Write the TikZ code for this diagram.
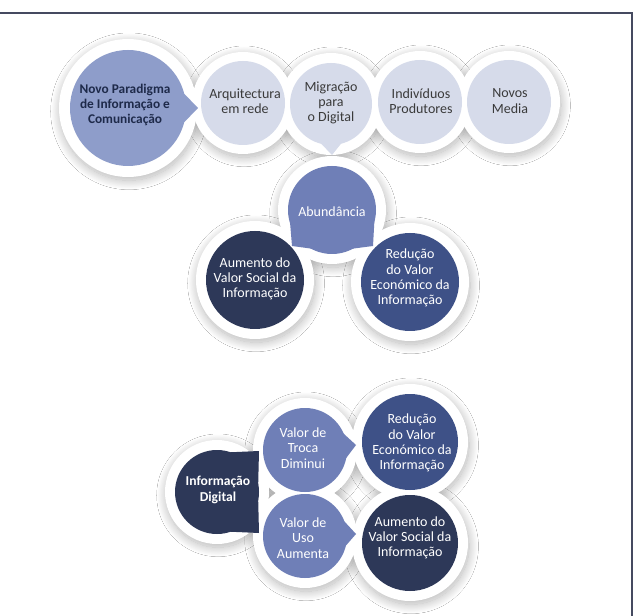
\documentclass[tikz,border=0pt]{standalone}
\usepackage{fontspec}
\setmainfont{Carlito}
\usetikzlibrary{shadows.blur}
\definecolor{lightf}{HTML}{D6DBEA}
\definecolor{novof}{HTML}{8E9DCA}
\definecolor{midf}{HTML}{6F7FB7}
\definecolor{bluef}{HTML}{3E5187}
\definecolor{darkf}{HTML}{2D3858}
\definecolor{framec}{HTML}{454A60}
\definecolor{txtgray}{HTML}{3A3A3A}
\definecolor{txtnavy}{HTML}{1E2A4A}
\tikzset{
  halo/.style={blur shadow={shadow xshift=0.8pt, shadow yshift=-2.5pt, shadow blur radius=7pt, shadow blur steps=32, shadow opacity=30}},
  lbl/.style={align=center, font=\fontsize{10.5}{11.4}\selectfont, inner sep=0pt},
  lbldark/.style={lbl, text=txtgray},
  lbllight/.style={lbl, text=white},
}
\begin{document}
\begin{tikzpicture}[x=0.75pt,y=-0.75pt]
\useasboundingbox (0,0) rectangle (635,616);
\fill[white] (0,0) rectangle (635,616);
% centres
\coordinate (cN) at (128,108);
\coordinate (cA) at (243,103);
\coordinate (cM) at (331,104);
\coordinate (cI) at (420,102);
\coordinate (cNM) at (509,102);
\coordinate (cAb) at (332,210);
\coordinate (cAu) at (255,280);
\coordinate (cR) at (410,282);
\coordinate (cID) at (217,492);
\coordinate (cVT) at (305,450);
\coordinate (cVU) at (305,536);
\coordinate (cR2) at (410,442);
\coordinate (cAu2) at (410,543);
% shadows
\path[halo] (cN) circle (69);
\path[halo] (cA) circle (51);
\path[halo] (cM) circle (51);
\path[halo] (cI) circle (51);
\path[halo] (cNM) circle (51);
\path[halo] (cAb) circle (54);
\path[halo] (cAu) circle (59);
\path[halo] (cR) circle (59);
\path[halo] (cID) circle (52);
\path[halo] (cVT) circle (52);
\path[halo] (cVU) circle (52);
\path[halo] (cR2) circle (58);
\path[halo] (cAu2) circle (58);
% white rings
\fill[white] (cN) circle (69);
\fill[white] (cA) circle (51);
\fill[white] (cM) circle (51);
\fill[white] (cI) circle (51);
\fill[white] (cNM) circle (51);
\fill[white] (cAb) circle (54);
\fill[white] (cAu) circle (59);
\fill[white] (cR) circle (59);
\fill[white] (cID) circle (52);
\fill[white] (cVT) circle (52);
\fill[white] (cVU) circle (52);
\fill[white] (cR2) circle (58);
\fill[white] (cAu2) circle (58);
% coloured discs and pointers
\fill[novof] (cN) circle (58);
\coordinate (pN) at (198,108);
\fill[novof] ([shift={(-16:57)}]cN) -- (pN) -- ([shift={(16:57)}]cN) -- cycle;
\fill[lightf] (cA) circle (42);
\fill[lightf] (cM) circle (41);
\coordinate (pM) at (332,155);
\fill[lightf] ([shift={(74:40)}]cM) -- (pM) -- ([shift={(106:40)}]cM) -- cycle;
\fill[lightf] (cI) circle (42);
\fill[lightf] (cNM) circle (42);
\fill[midf] (cAb) circle (44);
\coordinate (pAbL) at (292,246);
\coordinate (pAbR) at (373,246);
\fill[midf] ([shift={(180:43)}]cAb) -- (pAbL) -- ([shift={(115:43)}]cAb) -- cycle;
\fill[midf] ([shift={(0:43)}]cAb) -- (pAbR) -- ([shift={(65:43)}]cAb) -- cycle;
\fill[darkf] (cAu) circle (49);
\fill[bluef] (cR) circle (49);
\fill[darkf] (cID) circle (42);
\coordinate (pIDT) at (259,451);
\coordinate (pIDB) at (259,533);
\fill[darkf] ([shift={(285:41)}]cID) -- (pIDT) -- ([shift={(0:41)}]cID) -- cycle;
\fill[darkf] ([shift={(0:41)}]cID) -- (pIDB) -- ([shift={(75:41)}]cID) -- cycle;
\fill[midf] (cVT) circle (42);
\coordinate (pVT) at (356,445);
\fill[midf] ([shift={(-26:41)}]cVT) -- (pVT) -- ([shift={(14:41)}]cVT) -- cycle;
\fill[midf] (cVU) circle (42);
\coordinate (pVU) at (356,534);
\fill[midf] ([shift={(-24:41)}]cVU) -- (pVU) -- ([shift={(16:41)}]cVU) -- cycle;
\fill[bluef] (cR2) circle (48);
\fill[darkf] (cAu2) circle (48);
% labels
\node[lbl, text=txtnavy, font=\bfseries\fontsize{10}{11.4}\selectfont] (tN) at (125,105) {Novo Paradigma\\de Informação e\\Comunicação};
\node[lbldark] (tA) at (245,101) {Arquitectura\\em rede};
\node[lbldark] (tM) at (331,103) {Migração\\para\\o Digital};
\node[lbldark] (tI) at (421,101) {Indivíduos\\Produtores};
\node[lbldark] (tNM) at (510,101) {Novos\\Media};
\node[lbllight] (tAb) at (332,212) {Abundância};
\node[lbllight] (tAu) at (255,279) {Aumento do\\Valor Social da\\Informação};
\node[lbllight] (tR) at (410,278) {Redução\\do Valor\\Económico da\\Informação};
\node[lbllight, font=\bfseries\fontsize{10.2}{11.4}\selectfont] (tID) at (218,490) {Informação\\Digital};
\node[lbllight] (tVT) at (303,448) {Valor de\\Troca\\Diminui};
\node[lbllight] (tVU) at (303,538) {Valor de\\Uso\\Aumenta};
\node[lbllight] (tR2) at (412,443) {Redução\\do Valor\\Económico da\\Informação};
\node[lbllight] (tAu2) at (410,538) {Aumento do\\Valor Social da\\Informação};
% frame
\coordinate (fa) at (0,13);
\coordinate (fb) at (632,13);
\coordinate (fc) at (632,616);
\draw[framec, line width=1.5pt] (fa) -- (fb) -- (fc);
\end{tikzpicture}
\end{document}
